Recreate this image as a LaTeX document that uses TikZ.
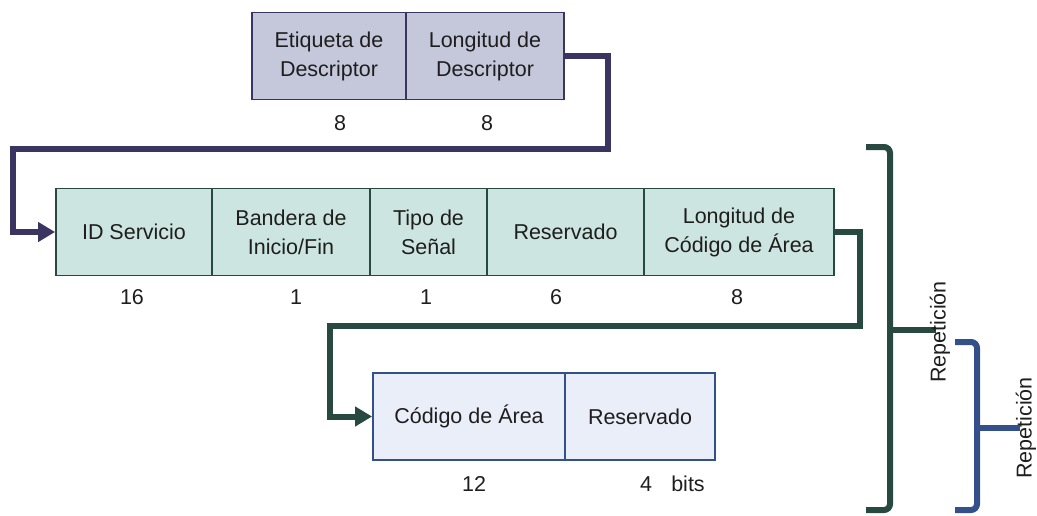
\documentclass[tikz,border=0pt]{standalone}
\usepackage{fontspec}
\setmainfont{Liberation Sans}
\usetikzlibrary{arrows.meta}
\definecolor{pfill}{HTML}{C5C8DB}
\definecolor{pline}{HTML}{3A3460}
\definecolor{gfill}{HTML}{CDE5E0}
\definecolor{gline}{HTML}{27493F}
\definecolor{bfill}{HTML}{EAEEF8}
\definecolor{bline}{HTML}{34508A}
\definecolor{txt}{HTML}{1E1E1E}
\tikzset{
  cell/.style={draw, line width=1.8pt, inner sep=0pt, align=center, text=txt,
    font=\fontsize{21.5}{29}\selectfont, minimum height=87pt},
  pcell/.style={cell, fill=pfill, draw=pline},
  gcell/.style={cell, fill=gfill, draw=gline},
  bcell/.style={cell, fill=bfill, draw=bline},
  num/.style={text=txt, font=\fontsize{21.5}{24}\selectfont, inner sep=0pt},
  conn/.style={line width=6pt, line join=miter, -{Triangle[length=17pt,width=19pt]}},
  brace/.style={line width=6pt, rounded corners=6pt},
  rep/.style={rotate=90, text=txt, font=\fontsize{21.5}{24}\selectfont, inner sep=0pt}
}
\begin{document}
\begin{tikzpicture}[x=1pt,y=-1pt]
\useasboundingbox (0,0) rectangle (1037,515);
% top row
\node[pcell, minimum width=154pt] (et) at (329,56) {Etiqueta de\\Descriptor};
\node[pcell, minimum width=158pt] (ld) at (485,56) {Longitud de\\Descriptor};
\node[num] (n1) at (340,123) {8};
\node[num] (n2) at (487,123) {8};
% middle row
\node[gcell, minimum width=156pt] (ids) at (134,232) {ID Servicio};
\node[gcell, minimum width=158pt] (ban) at (291,232) {Bandera de\\Inicio/Fin};
\node[gcell, minimum width=117pt] (tip) at (428.5,232) {Tipo de\\Señal};
\node[gcell, minimum width=157pt] (res) at (565.5,232) {Reservado};
\node[gcell, minimum width=190pt] (lca) at (739,232) {Longitud de\\Código de Área};
\node[num] (m1) at (132,297) {16};
\node[num] (m2) at (296,297) {1};
\node[num] (m3) at (426,297) {1};
\node[num] (m4) at (556,297) {6};
\node[num] (m5) at (737,297) {8};
% bottom row
\node[bcell, minimum width=192pt] (ca) at (469,416.5) {Código de Área};
\node[bcell, minimum width=150pt] (rb) at (640,416.5) {Reservado};
\node[num] (b1) at (474,484) {12};
\node[num] (b2) at (646,484) {4};
\node[num] (b3) at (688,484) {bits};
% connectors
\coordinate (p1) at (608,149);
\coordinate (p2) at (13,149);
\draw[conn, draw=pline] (ld.east) -| (p1) -- (p2) |- (ids.west);
\coordinate (g1) at (860,326);
\coordinate (g2) at (330,326);
\draw[conn, draw=gline] (lca.east) -| (g1) -- (g2) |- (ca.west);
% big brace
\coordinate (bt) at (866,147);
\coordinate (bb) at (866,510);
\coordinate (bm) at (890,330);
\coordinate (btail) at (936,330);
\draw[brace, draw=gline] (bt) -- (890,147) -- (890,510) -- (bb);
\draw[line width=6pt, draw=gline] (bm) -- (btail);
\node[rep] (r1) at (940,332) {Repetición};
% small brace
\coordinate (st) at (955,342);
\coordinate (sb) at (955,510);
\coordinate (sm) at (977,428);
\coordinate (stail) at (1020,428);
\draw[brace, draw=bline] (st) -- (977,342) -- (977,510) -- (sb);
\draw[line width=6pt, draw=bline] (sm) -- (stail);
\node[rep] (r2) at (1026,428) {Repetición};
\end{tikzpicture}
\end{document}
